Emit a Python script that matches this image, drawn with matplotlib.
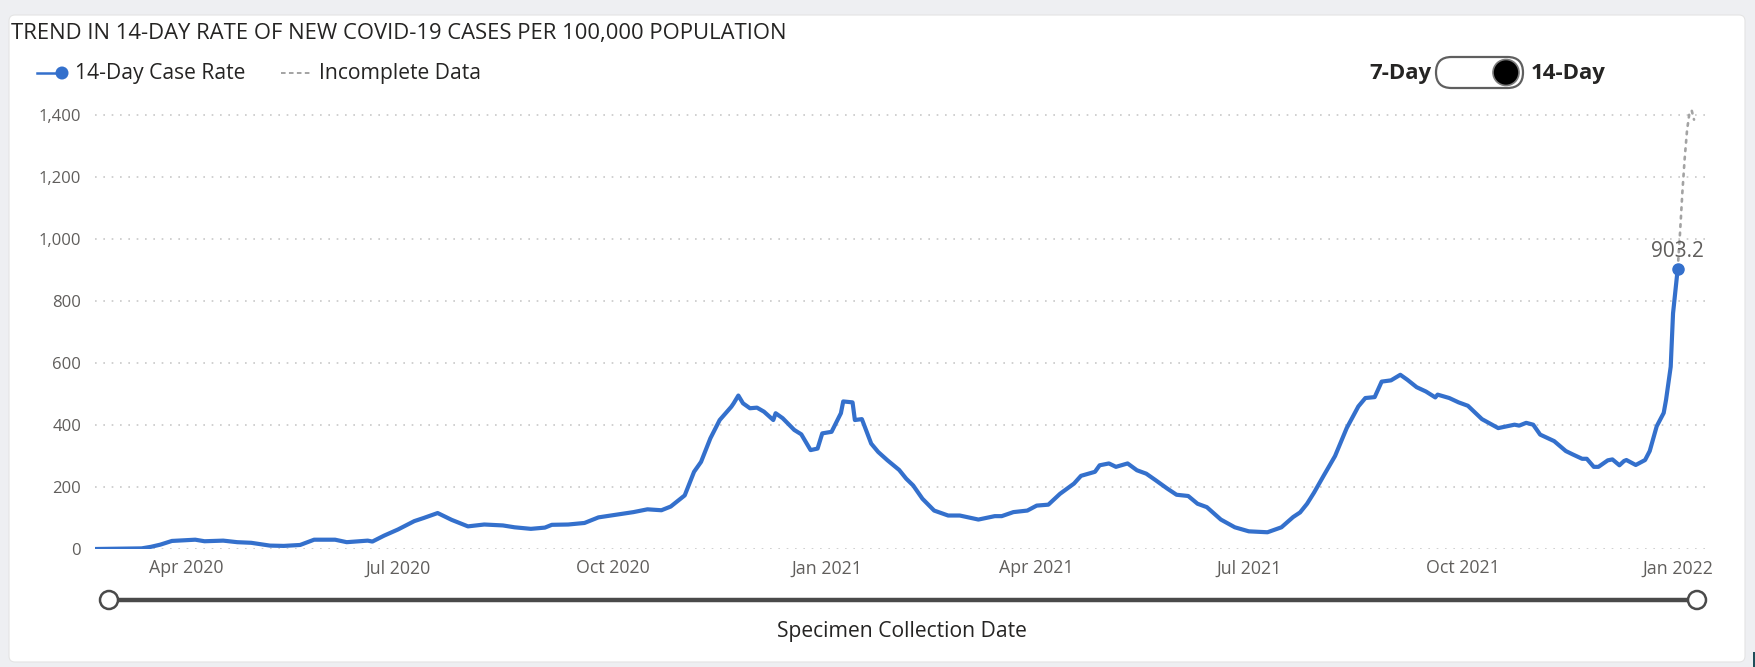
import matplotlib
matplotlib.use("Agg")
import matplotlib.pyplot as plt
import matplotlib.dates as mdates
from matplotlib.patches import FancyBboxPatch, Circle, Rectangle
from matplotlib.lines import Line2D
from matplotlib.ticker import FuncFormatter
import pandas as pd

# ---------------- data ----------------
case_dates = [
    "2020-02-22", "2020-03-13", "2020-03-17", "2020-03-21", "2020-03-26", "2020-04-05",
    "2020-04-09", "2020-04-17", "2020-04-23", "2020-04-29", "2020-05-07", "2020-05-13",
    "2020-05-20", "2020-05-26", "2020-06-04", "2020-06-09", "2020-06-18", "2020-06-20",
    "2020-06-25", "2020-07-01", "2020-07-08", "2020-07-12", "2020-07-18", "2020-07-24",
    "2020-07-31", "2020-08-07", "2020-08-15", "2020-08-20", "2020-08-27", "2020-09-02",
    "2020-09-05", "2020-09-12", "2020-09-19", "2020-09-25", "2020-10-02", "2020-10-10",
    "2020-10-16", "2020-10-22", "2020-10-26", "2020-11-01", "2020-11-05", "2020-11-08",
    "2020-11-12", "2020-11-16", "2020-11-21", "2020-11-22", "2020-11-24", "2020-11-26",
    "2020-11-29", "2020-12-02", "2020-12-05", "2020-12-09", "2020-12-10", "2020-12-13",
    "2020-12-18", "2020-12-21", "2020-12-25", "2020-12-28", "2020-12-30", "2021-01-03",
    "2021-01-07", "2021-01-08", "2021-01-12", "2021-01-13", "2021-01-16", "2021-01-20",
    "2021-01-23", "2021-01-27", "2021-02-01", "2021-02-04", "2021-02-07", "2021-02-11",
    "2021-02-16", "2021-02-22", "2021-02-27", "2021-03-07", "2021-03-14", "2021-03-17",
    "2021-03-22", "2021-03-28", "2021-04-01", "2021-04-06", "2021-04-11", "2021-04-17",
    "2021-04-20", "2021-04-26", "2021-04-28", "2021-05-02", "2021-05-05", "2021-05-10",
    "2021-05-14", "2021-05-18", "2021-05-22", "2021-05-27", "2021-05-31", "2021-06-05",
    "2021-06-09", "2021-06-13", "2021-06-19", "2021-06-25", "2021-07-01", "2021-07-09",
    "2021-07-15", "2021-07-20", "2021-07-23", "2021-07-26", "2021-07-29", "2021-08-02",
    "2021-08-07", "2021-08-12", "2021-08-17", "2021-08-20", "2021-08-24", "2021-08-27",
    "2021-08-31", "2021-09-04", "2021-09-07", "2021-09-11", "2021-09-15", "2021-09-19",
    "2021-09-20", "2021-09-25", "2021-09-29", "2021-10-03", "2021-10-09", "2021-10-14",
    "2021-10-16", "2021-10-23", "2021-10-25", "2021-10-28", "2021-10-31", "2021-11-03",
    "2021-11-09", "2021-11-14", "2021-11-17", "2021-11-21", "2021-11-23", "2021-11-26",
    "2021-11-28", "2021-12-02", "2021-12-04", "2021-12-07", "2021-12-09", "2021-12-10",
    "2021-12-14", "2021-12-18", "2021-12-20", "2021-12-23", "2021-12-26", "2021-12-27",
    "2021-12-29", "2021-12-30", "2022-01-01",
]
case_rate = [
    0, 2, 7, 14, 26, 30,
    25, 27, 22, 20, 11, 10,
    13, 30, 30, 22, 27, 24,
    43, 63, 90, 100, 116, 94,
    73, 79, 76, 70, 65, 69,
    78, 79, 84, 102, 110, 119,
    128, 125, 137, 173, 249, 281,
    357, 416, 459, 470, 495, 470,
    454, 456, 443, 416, 438, 422,
    384, 370, 319, 324, 373, 378,
    438, 476, 473, 416, 419, 340,
    313, 286, 255, 227, 205, 162,
    124, 108, 108, 95, 106, 106,
    119, 124, 140, 143, 178, 211,
    236, 249, 270, 276, 265, 276,
    254, 243, 222, 195, 175, 171,
    146, 135, 95, 70, 57, 54,
    70, 103, 118, 146, 182, 235,
    300, 390, 460, 487, 490, 540,
    544, 562, 546, 522, 508, 489,
    498, 487, 473, 462, 419, 398,
    390, 401, 398, 407, 401, 369,
    348, 316, 305, 291, 291, 265,
    265, 286, 289, 270, 284, 287,
    271, 287, 316, 396, 439, 481,
    588, 760, 903.2,
]
incomplete_dates = ["2022-01-01", "2022-01-02", "2022-01-03", "2022-01-04",
                    "2022-01-05", "2022-01-06", "2022-01-07", "2022-01-08"]
incomplete_rate = [903.2, 1020, 1150, 1260, 1350, 1405, 1415, 1385]

y_ticks = [0, 200, 400, 600, 800, 1000, 1200, 1400]
x_tick_dates = ["2020-04-01", "2020-07-01", "2020-10-01", "2021-01-01",
                "2021-04-01", "2021-07-01", "2021-10-01", "2022-01-01"]
x_tick_labels = ["Apr 2020", "Jul 2020", "Oct 2020", "Jan 2021",
                 "Apr 2021", "Jul 2021", "Oct 2021", "Jan 2022"]
x_range = ["2020-02-22", "2022-01-14"]
y_range = [0, 1450]

title_text = "TREND IN 14-DAY RATE OF NEW COVID-19 CASES PER 100,000 POPULATION"
legend_labels = ["14-Day Case Rate", "Incomplete Data"]
toggle_labels = ["7-Day", "14-Day"]
x_axis_title = "Specimen Collection Date"

# ---------------- style ----------------
FONT = "Open Sans"
plt.rcParams["font.family"] = [FONT, "DejaVu Sans"]
BLUE = "#3470CC"
GRAY_TXT = "#605E5C"
DARK_TXT = "#252423"

W, H = 1756, 667
fig = plt.figure(figsize=(W / 100, H / 100), dpi=100)
fig.patch.set_facecolor("#EEEFF2")

# overlay in pixel coordinates for card / decorations
bg = fig.add_axes([0, 0, 1, 1], zorder=0)
bg.set_xlim(0, W)
bg.set_ylim(H, 0)
bg.axis("off")
bg.add_patch(FancyBboxPatch((9, 15), 1736, 647,
                            boxstyle="round,pad=0,rounding_size=6",
                            fc="white", ec="#E4E4E4", lw=0.8))
bg.add_patch(Rectangle((1753, 652), 3, 15, fc="#1F4E5A", ec="none"))

# ---------------- main chart ----------------
ax = fig.add_axes([95 / W, (H - 549) / H, (1708 - 95) / W, (549 - 99.5) / H], zorder=2)
ax.set_facecolor("none")

d_case = pd.to_datetime(case_dates)
d_inc = pd.to_datetime(incomplete_dates)

ax.plot(d_inc, incomplete_rate, color="#A3A3A3", lw=1.9,
        linestyle=(0, (1, 2.2)), dash_capstyle="round", zorder=3)
ax.plot(d_case, case_rate, color=BLUE, lw=3.0, solid_joinstyle="round",
        solid_capstyle="round", zorder=4)
ax.plot(d_case[-1:], case_rate[-1:], "o", color=BLUE, ms=8, zorder=5)
ax.annotate(f"{case_rate[-1]:.1f}", (d_case[-1], case_rate[-1]),
            xytext=(0, 12.5), textcoords="offset points", ha="center", va="center",
            fontsize=15, color=GRAY_TXT, zorder=6)

ax.set_xlim(pd.to_datetime(x_range[0]), pd.to_datetime(x_range[1]))
ax.set_ylim(*y_range)
ax.set_yticks(y_ticks)
ax.yaxis.set_major_formatter(FuncFormatter(lambda v, p: f"{int(v):,}"))
ax.set_xticks(pd.to_datetime(x_tick_dates))
ax.set_xticklabels(x_tick_labels)
ax.yaxis.grid(True, linestyle=(0, (1, 4)), color="#C8C8C8", lw=1.2)
ax.xaxis.grid(False)
ax.set_axisbelow(True)
for s in ax.spines.values():
    s.set_visible(False)
ax.tick_params(axis="y", length=0, colors=GRAY_TXT, labelsize=12, pad=10)
ax.tick_params(axis="x", length=0, colors=GRAY_TXT, labelsize=12.8, pad=7.5)

# ---------------- header ----------------
bg.text(11, 34, title_text, ha="left", va="center", fontsize=15.8, color=DARK_TXT)

# legend
bg.add_line(Line2D([37, 60], [73, 73], color=BLUE, lw=1.8))
bg.add_patch(Circle((62, 73), 6.5, fc=BLUE, ec="none"))
bg.text(75, 74, legend_labels[0], ha="left", va="center", fontsize=15.2, color=DARK_TXT)
bg.add_line(Line2D([281, 311], [73, 73], color="#8A8A8A", lw=1.1, linestyle=(0, (3, 2.2))))
bg.text(319, 74, legend_labels[1], ha="left", va="center", fontsize=15.2, color=DARK_TXT)

# toggle
bg.text(1432, 74, toggle_labels[0], ha="right", va="center", fontsize=16,
        fontweight="bold", color=DARK_TXT)
bg.add_patch(FancyBboxPatch((1436, 57), 87, 31,
                            boxstyle="round,pad=0,rounding_size=15.5",
                            fc="white", ec="#5F5F5F", lw=1.6))
bg.add_patch(Circle((1506, 72.5), 13, fc="black", ec="#7A7A7A", lw=1.2))
bg.text(1531, 74, toggle_labels[1], ha="left", va="center", fontsize=16,
        fontweight="bold", color=DARK_TXT)

# slider
bg.add_line(Line2D([109, 1697], [600, 600], color="#4A4A4A", lw=3.2, zorder=1))
for cx in (109, 1697):
    bg.add_patch(Circle((cx, 600), 9, fc="white", ec="#4A4A4A", lw=1.8, zorder=2))

bg.text(902, 632, x_axis_title, ha="center", va="center", fontsize=15.2, color=DARK_TXT)

fig.savefig("out.png", dpi=100, facecolor=fig.get_facecolor())
